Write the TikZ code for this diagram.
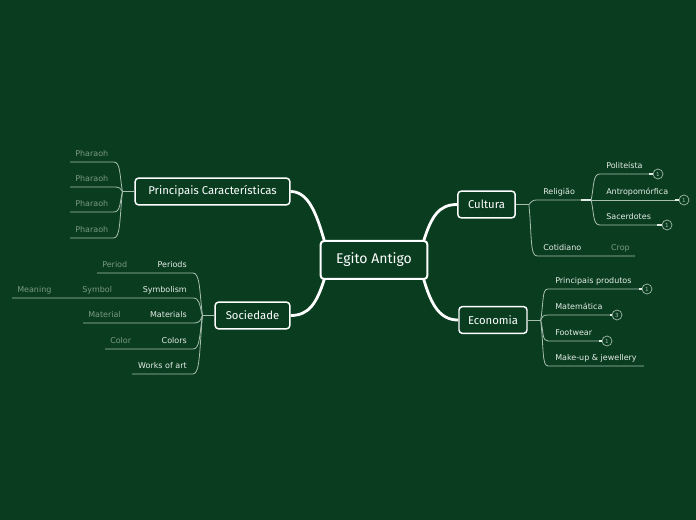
\documentclass[tikz,border=0pt]{standalone}
\usepackage{fontspec}
\setmainfont{DejaVu Sans}
\newfontfamily\topicfont{Fira Sans}
\usetikzlibrary{positioning,calc,backgrounds}
\definecolor{mmBack}{RGB}{10,61,32}
\definecolor{mmText}{RGB}{228,236,230}
\definecolor{mmGrey}{RGB}{122,152,132}
\definecolor{mmLine}{RGB}{168,190,174}

\begin{document}
\begin{tikzpicture}[
  x=0.75pt, y=-0.75pt,
  topic/.style={draw=white, line width=1.1pt, rounded corners=2.5pt, fill=mmBack, text=white, font=\topicfont\fontsize{8.5}{10}\selectfont, minimum height=20pt, inner xsep=5pt},
  leaf/.style={text=mmText, font=\fontsize{6}{7}\selectfont, text height=4.6pt, text depth=1.4pt, inner ysep=2.6pt, inner xsep=4.5pt},
  subleaf/.style={leaf, text=mmGrey, inner xsep=3.75pt},
  badge/.style={circle, draw=mmLine, line width=0.5pt, inner sep=0pt, minimum size=7.5pt, text=mmLine, font=\fontsize{4.2}{5}\selectfont},
  branch/.style={draw=white, line width=2.1pt},
  twig/.style={draw=mmLine, line width=0.6pt},
  twighi/.style={draw=mmText, line width=1.1pt},
]
% main topics
\node[topic, font=\topicfont\fontsize{10.5}{12}\selectfont, line width=1.5pt, minimum width=80pt, minimum height=28.5pt] (ctr) at (374,260) {Egito Antigo};
\node[topic, minimum width=116pt] (prc) at (212.5,191.5) {Principais Características};
\node[topic, minimum width=56pt] (soc) at (252.5,315.5) {Sociedade};
\node[topic, minimum width=43pt] (cul) at (486.5,204.5) {Cultura};
\node[topic, minimum width=51pt] (eco) at (493,320) {Economia};

% junctions
\coordinate (prcJ) at ($(prc.west)+(-12,0)$);
\coordinate (socJ) at ($(soc.west)+(-12,0)$);
\coordinate (culJ) at ($(cul.east)+(13,0)$);
\coordinate (ecoJ) at ($(eco.east)+(13,0)$);

% Principais Caracteristicas
\node[subleaf, anchor=south west] (ph1) at (70,162) {Pharaoh};
\node[subleaf, anchor=south west] (ph2) at (70,187) {Pharaoh};
\node[subleaf, anchor=south west] (ph3) at (70,212) {Pharaoh};
\node[subleaf, anchor=south west] (ph4) at (70,238) {Pharaoh};

% Sociedade
\node[leaf, anchor=south east] (per) at (193,273) {Periods};
\node[subleaf, anchor=south west] (perS) at (97,273) {Period};
\node[leaf, anchor=south east] (sym) at (193,298) {Symbolism};
\node[subleaf, anchor=south west] (symS) at (77,298) {Symbol};
\node[subleaf, anchor=south west] (mea) at (12,298) {Meaning};
\node[leaf, anchor=south east] (mat) at (193,323) {Materials};
\node[subleaf, anchor=south west] (matS) at (83,323) {Material};
\node[leaf, anchor=south east] (col) at (193,349) {Colors};
\node[subleaf, anchor=south west] (colS) at (105,349) {Color};
\node[leaf, anchor=south east] (woa) at (193,374) {Works of art};

% Cultura
\node[leaf, anchor=south west] (rel) at (537,200) {Religião};
\coordinate (relJ) at ($(rel.south east)+(10,0)$);
\node[leaf, anchor=south west] (pol) at (600,174) {Politeísta};
\node[leaf, anchor=south west] (ant) at (600,200) {Antropomórfica};
\node[leaf, anchor=south west] (sac) at (600,225) {Sacerdotes};
\node[badge] (polN) at (658,174) {1};
\node[badge] (antN) at (684,200) {1};
\node[badge] (sacN) at (667,225) {1};
\node[leaf, anchor=south west] (cot) at (537,256) {Cotidiano};
\node[subleaf, anchor=south east] (crop) at (635,256) {Crop};

% Economia
\node[leaf, anchor=south west, inner xsep=5.25pt] (pp) at (548,289) {Principais produtos};
\node[leaf, anchor=south west, inner xsep=5.25pt] (mt) at (548,315) {Matemática};
\node[leaf, anchor=south west, inner xsep=5.25pt] (fw) at (548,341) {Footwear};
\node[leaf, anchor=south west, inner xsep=5.25pt] (mk) at (548,366) {Make-up \& jewellery};
\node[badge] (ppN) at (647,289) {1};
\node[badge] (mtN) at (617,315) {3};
\node[badge] (fwN) at (607,341) {1};

\begin{scope}[on background layer]
  \fill[mmBack] (0,0) rectangle (696,520);
  % main branches
  \draw[branch] ($(ctr.north west)+(5,2)$) .. controls +(-8,-28) and +(18,0) .. (prc.east);
  \draw[branch] ($(ctr.south west)+(5,-2)$) .. controls +(-8,26) and +(18,0) .. (soc.east);
  \draw[branch] ($(ctr.north east)+(-5,2)$) .. controls +(8,-26) and +(-18,0) .. (cul.west);
  \draw[branch] ($(ctr.south east)+(-5,-2)$) .. controls +(8,28) and +(-18,0) .. (eco.west);
\end{scope}

% left side twigs
\draw[twig] (prc.west) -- (prcJ);
\draw[twig] (prcJ) .. controls +(-3,-18) and +(7,0) .. (ph1.south east) -- (ph1.south west);
\draw[twig] (prcJ) .. controls +(-2,-3) and +(7,0) .. (ph2.south east) -- (ph2.south west);
\draw[twig] (prcJ) .. controls +(-3,13) and +(7,0) .. (ph3.south east) -- (ph3.south west);
\draw[twig] (prcJ) .. controls +(-3,29) and +(7,0) .. (ph4.south east) -- (ph4.south west);

\draw[twig] (soc.west) -- (socJ);
\draw[twig] (socJ) .. controls +(-3,-25) and +(7,0) .. (per.south east) -- (perS.south west);
\draw[twig] (socJ) .. controls +(-3,-10) and +(7,0) .. (sym.south east) -- (symS.south west) -- (mea.south west);
\draw[twig] (socJ) .. controls +(-2,5) and +(7,0) .. (mat.south east) -- (matS.south west);
\draw[twig] (socJ) .. controls +(-3,20) and +(7,0) .. (col.south east) -- (colS.south west);
\draw[twig] (socJ) .. controls +(-3,35) and +(7,0) .. (woa.south east) -- (woa.south west);

% right side twigs
\draw[twig] (cul.east) -- (culJ);
\draw[twig] (culJ) .. controls +(3,-3) and +(-5,0) .. (rel.south west) -- (rel.south east);
\draw[twighi] (rel.south east) -- (relJ);
\draw[twig] (relJ) .. controls +(3,-16) and +(-7,0) .. (pol.south west) -- (pol.south east);
\draw[twig] (relJ) -- (ant.south east);
\draw[twig] (relJ) .. controls +(3,15) and +(-7,0) .. (sac.south west) -- (sac.south east);
\draw[twighi] (pol.south east) -- (polN.west);
\draw[twighi] (ant.south east) -- (antN.west);
\draw[twighi] (sac.south east) -- (sacN.west);
\draw[twig] (culJ) .. controls +(3,31) and +(-7,0) .. (cot.south west) -- (crop.south east);

\draw[twig] (eco.east) -- (ecoJ);
\draw[twig] (ecoJ) .. controls +(3,-19) and +(-6,0) .. (pp.south west) -- (pp.south east);
\draw[twig] (ecoJ) .. controls +(2,-3) and +(-6,0) .. (mt.south west) -- (mt.south east);
\draw[twig] (ecoJ) .. controls +(3,13) and +(-6,0) .. (fw.south west) -- (fw.south east);
\draw[twig] (ecoJ) .. controls +(3,28) and +(-6,0) .. (mk.south west) -- (mk.south east);
\draw[twighi] (pp.south east) -- (ppN.west);
\draw[twighi] (mt.south east) -- (mtN.west);
\draw[twighi] (fw.south east) -- (fwN.west);
\end{tikzpicture}
\end{document}
